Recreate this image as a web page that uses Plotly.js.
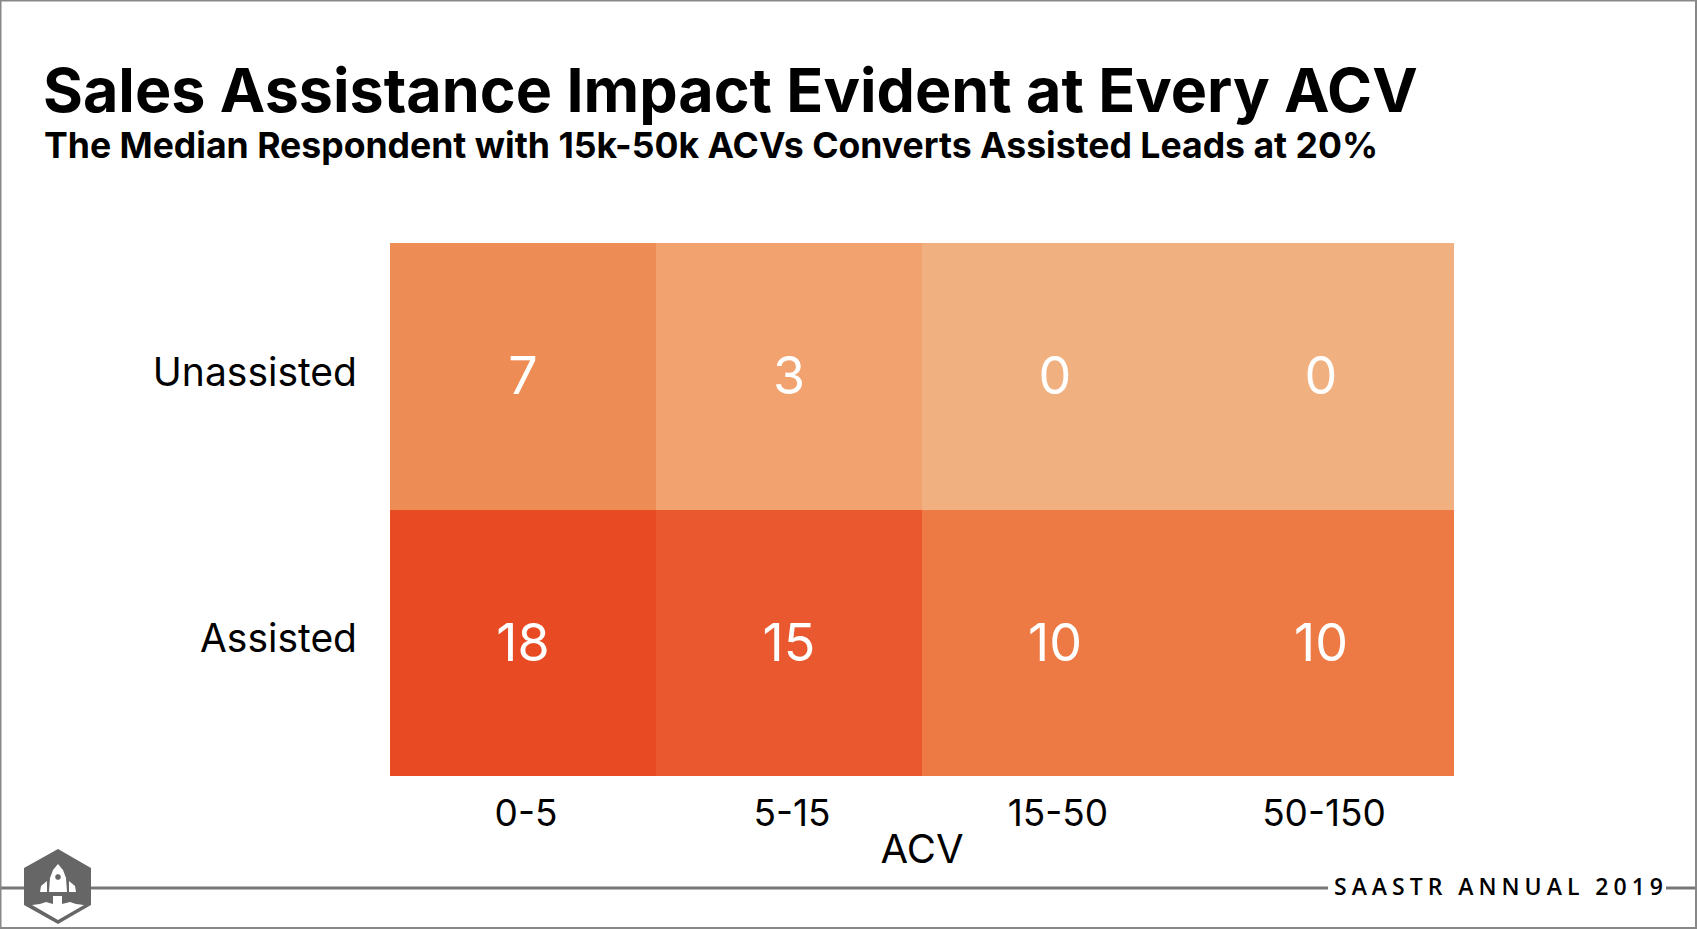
<!DOCTYPE html>
<html><head><meta charset="utf-8">
<script src="https://cdn.plot.ly/plotly-3.0.1.min.js"></script>
<style>
html,body{margin:0;padding:0;background:#fff;overflow:hidden}
#chart{width:1697px;height:929px}
</style></head><body><div id="chart"></div>
<script>
const acvCategories = ["0-5","5-15","15-50","50-150"];
const rowLabels = ["Assisted","Unassisted"];
const assistedValues = [18,15,10,10];
const unassistedValues = [7,3,0,0];
const titleText = "Sales Assistance Impact Evident at Every ACV";
const subtitleText = "The Median Respondent with 15k-50k ACVs Converts Assisted Leads at 20%";
const footerText = "SAASTR ANNUAL 2019";
const W=1697,H=929,FONT='Inter, "Open Sans", sans-serif';
const px=x=>x/W, py=y=>1-y/H;
function pathOf(pts){return pts.map((p,i)=>(i?'L':'M')+px(p[0]).toFixed(5)+','+py(p[1]).toFixed(5)).join(' ')+' Z';}
function ellipse(cx,cy,rx,ry,n=24){const a=[];for(let i=0;i<n;i++){const t=i/n*2*Math.PI;a.push([cx+rx*Math.cos(t),cy+ry*Math.sin(t)]);}return a;}
const GREY='#666666';
const fill=(pts,color)=>({type:'path',xref:'paper',yref:'paper',path:pathOf(pts),fillcolor:color,line:{width:0},layer:'above'});
const hline=(x0,x1,y,w,c)=>({type:'line',xref:'paper',yref:'paper',x0:px(x0),x1:px(x1),y0:py(y),y1:py(y),line:{color:c,width:w}});
const vline=(x,y0,y1,w,c)=>({type:'line',xref:'paper',yref:'paper',x0:px(x),x1:px(x),y0:py(y0),y1:py(y1),line:{color:c,width:w}});
const logo=[
 fill([[58,849],[91,868],[91,905],[58,924],[24,905],[24,868]],GREY),
 fill([[58,864],[63,870],[66,878],[67,892],[49,892],[50,878],[53,870]],'#fff'),
 fill(ellipse(58,877,2.8,2.8),GREY),
 fill([[47,881],[47,892],[40,892],[41,886]],'#fff'),
 fill([[69,881],[69,892],[76,892],[75,886]],'#fff'),
 fill([[53,896],[62,896],[62,904],[70,902],[76,904],[84,905],[58,920],[32,905],[40,904],[46,902],[53,904]],'#fff')
];
const data=[{
 type:'heatmap',x:acvCategories,y:rowLabels,z:[assistedValues,unassistedValues],
 colorscale:[[0,'#F1B080'],[3/18,'#F1A26F'],[7/18,'#EE8C55'],[10/18,'#ED7944'],[15/18,'#E9582E'],[1,'#E84A24']],
 zmin:0,zmax:18,showscale:false,xgap:0,ygap:0,
 texttemplate:'%{z}',textfont:{family:FONT,size:52,color:'#fff'},hoverinfo:'skip'
}];
const layout={
 width:W,height:H,margin:{l:0,r:0,t:0,b:0},paper_bgcolor:'#fff',plot_bgcolor:'#fff',showlegend:false,
 font:{family:FONT,color:'#000'},
 title:{text:titleText,font:{family:FONT,size:61,weight:700,color:'#000'},xref:'paper',yref:'paper',x:px(43),xanchor:'left',y:py(112),yanchor:'bottom',automargin:false},
 xaxis:{domain:[px(390),px(1454)],type:'category',showgrid:false,zeroline:false,ticks:'',ticklen:0,ticklabelstandoff:12,ticklabelshift:3,tickfont:{family:FONT,size:37,color:'#000'},title:{text:'ACV',font:{family:FONT,size:40,color:'#000'},standoff:0}},
 yaxis:{domain:[py(776),py(243)],type:'category',showgrid:false,zeroline:false,ticks:'',ticklabelstandoff:32,ticklabelshift:-4,tickfont:{family:FONT,size:39,color:'#000'}},
 shapes:[
  hline(0,1328,888,3,'#777'),hline(1666,1697,888,3,'#777'),
  hline(0,1697,0.5,2,'#888'),hline(0,1697,928,2,'#888'),vline(0.5,0,929,2,'#888'),vline(1696,0,929,2,'#888'),
  ...logo],
 annotations:[
  {xref:'paper',yref:'paper',x:px(41.5),y:py(146),xanchor:'left',yanchor:'middle',showarrow:false,text:subtitleText,font:{family:FONT,size:35.6,weight:700,color:'#000'}},
  {xref:'paper',yref:'paper',x:px(1501),y:py(886),xanchor:'center',yanchor:'middle',showarrow:false,text:footerText,font:{family:'"Open Sans", sans-serif',size:23,weight:600,color:'#000'}}
 ]
};
Plotly.newPlot('chart',data,layout,{displayModeBar:false,responsive:false}).then(()=>{
 document.querySelectorAll('.annotation-text').forEach(t=>{ if(t.textContent===footerText) t.style.letterSpacing='5px'; });
});
</script></body></html>
